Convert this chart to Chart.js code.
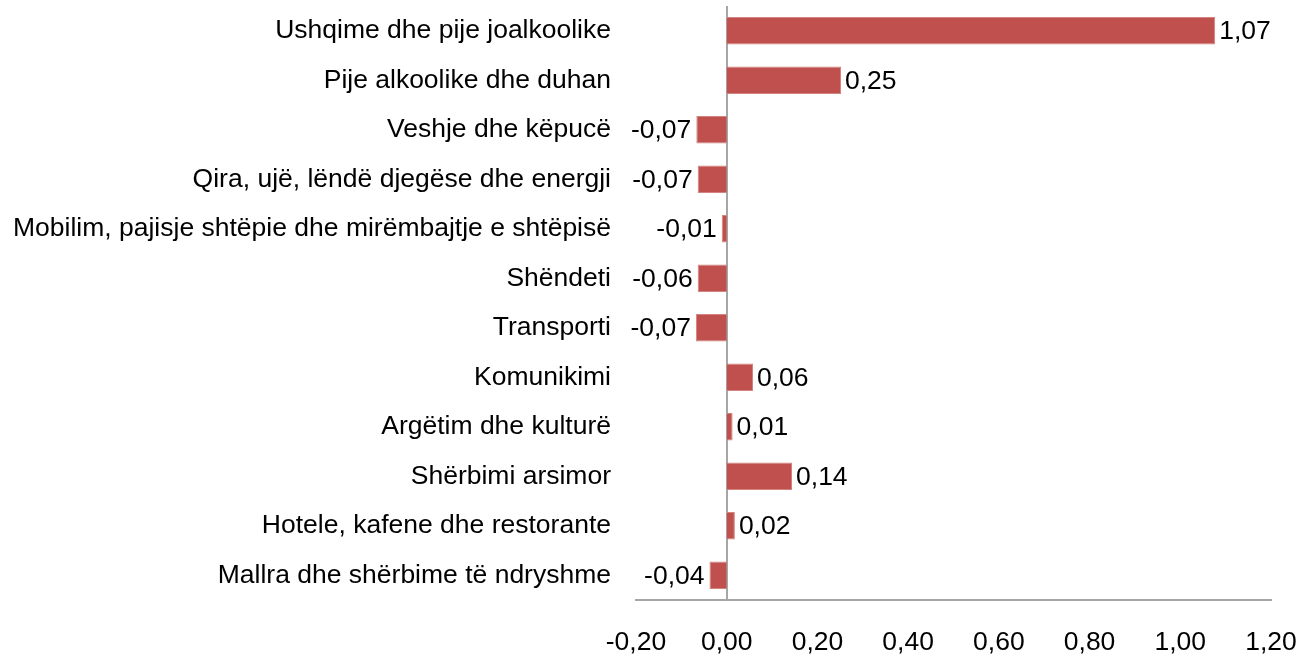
<!DOCTYPE html>
<html>
<head>
<meta charset="utf-8">
<script src="https://cdn.jsdelivr.net/npm/chart.js@4"></script>
<style>
  html, body { margin: 0; padding: 0; background: #fff; }
  #wrap { width: 1299px; height: 655px; }
</style>
</head>
<body>
<div id="wrap"><canvas id="chart"></canvas></div>
<script>
// categories (top to bottom)
var categories = [
  "Ushqime dhe pije joalkoolike",
  "Pije alkoolike dhe duhan",
  "Veshje dhe këpucë",
  "Qira, ujë, lëndë djegëse dhe energji",
  "Mobilim, pajisje shtëpie dhe mirëmbajtje e shtëpisë",
  "Shëndeti",
  "Transporti",
  "Komunikimi",
  "Argëtim dhe kulturë",
  "Shërbimi arsimor",
  "Hotele, kafene dhe restorante",
  "Mallra dhe shërbime të ndryshme"
];

// contributions
var values = [1.077, 0.252, -0.067, -0.064, -0.011, -0.064, -0.068, 0.058, 0.013, 0.144, 0.018, -0.038];

// labels as printed next to the bars
var valueLabels = ["1,07", "0,25", "-0,07", "-0,07", "-0,01", "-0,06", "-0,07", "0,06", "0,01", "0,14", "0,02", "-0,04"];

// x axis
var xMin = -0.2;
var xMax = 1.2;
var xStep = 0.2;

var fontFamily = "'Liberation Sans', Arial, sans-serif";
var fontSize = 26.5;

// draw value labels at the end of each bar
var barLabels = {
  id: 'barLabels',
  afterDatasetsDraw: function(chart) {
    var ctx = chart.ctx;
    var meta = chart.getDatasetMeta(0);
    ctx.save();
    ctx.font = fontSize + "px " + fontFamily;
    ctx.fillStyle = "#000";
    ctx.textBaseline = "middle";
    meta.data.forEach(function(bar, i) {
      if (values[i] >= 0) {
        ctx.textAlign = "left";
        ctx.fillText(valueLabels[i], bar.x + 4, bar.y + 1);
      } else {
        ctx.textAlign = "right";
        ctx.fillText(valueLabels[i], bar.x - 5, bar.y + 1);
      }
    });
    ctx.restore();
  }
};

var chart = new Chart('chart', {
  type: 'bar',
  data: {
    labels: categories,
    datasets: [{
      data: values,
      backgroundColor: "#c0504d",
      borderColor: "#d4847f",
      borderWidth: 1,
      borderSkipped: 'start',
      barPercentage: 0.56,
      categoryPercentage: 1.0
    }]
  },
  options: {
    indexAxis: 'y',
    responsive: true,
    maintainAspectRatio: false,
    animation: false,
    layout: {
      padding: { top: 6, right: 28, left: 11, bottom: 0 }
    },
    plugins: {
      legend: { display: false },
      tooltip: { enabled: false }
    },
    scales: {
      x: {
        min: xMin,
        max: xMax,
        ticks: {
          stepSize: xStep,
          color: "#000",
          padding: 27,
          maxRotation: 0,
          font: { family: fontFamily, size: fontSize },
          callback: function(value) {
            var v = Math.round(value * 100) / 100;
            if (v === 0) v = 0;
            return v.toFixed(2).replace(".", ",");
          }
        },
        grid: {
          drawTicks: false,
          lineWidth: 2,
          color: function(c) {
            return (c.tick && Math.abs(c.tick.value) < 1e-9) ? "#a6a6a6" : "rgba(0,0,0,0)";
          }
        },
        border: { display: true, color: "#a6a6a6", width: 2 },
        afterFit: function(scale) {
          scale.height = 55;
          scale.paddingLeft = 0;
          scale.paddingRight = 0;
        }
      },
      y: {
        ticks: {
          color: "#000",
          padding: 25,
          autoSkip: false,
          font: { family: fontFamily, size: fontSize }
        },
        grid: { display: false, drawTicks: false },
        border: { display: false },
        afterFit: function(scale) {
          scale.width = 625;
          scale.paddingTop = 0;
          scale.paddingBottom = 0;
        }
      }
    }
  },
  plugins: [barLabels]
});
</script>
</body>
</html>
